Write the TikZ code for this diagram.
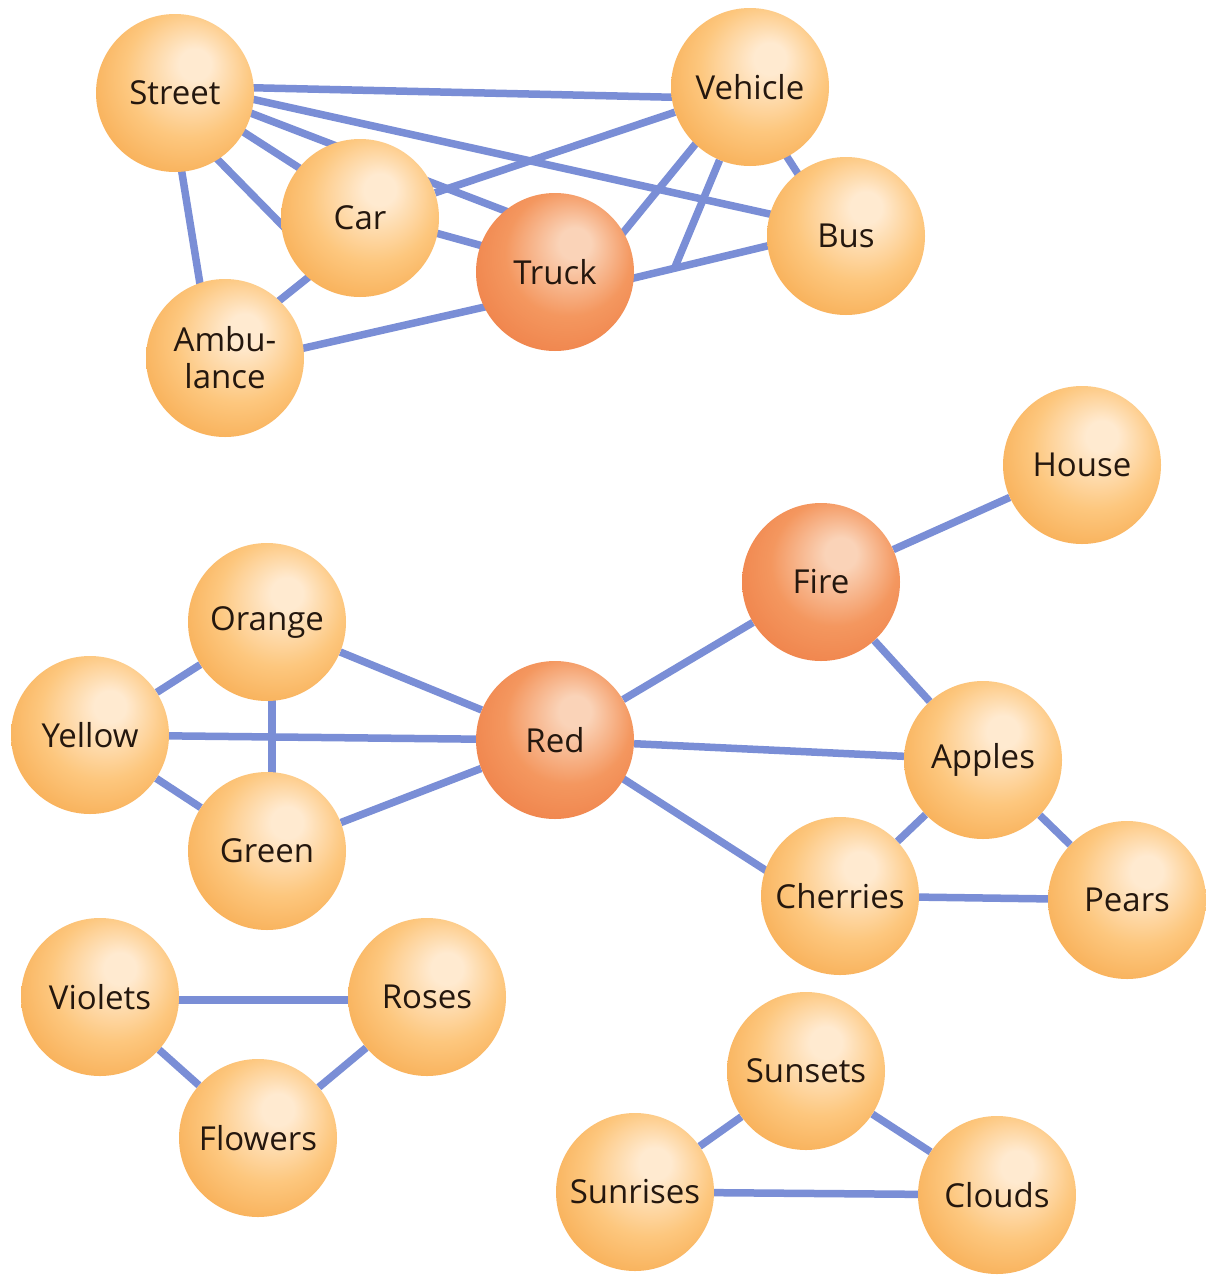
\documentclass[tikz,border=0pt]{standalone}
\usepackage{fontspec}
\setmainfont{Open Sans}
\usetikzlibrary{backgrounds,calc}
\definecolor{hlO}{HTML}{FFEAD0}
\definecolor{midO}{HTML}{FDC77E}
\definecolor{edgeO}{HTML}{F7AC52}
\definecolor{hlR}{HTML}{FAD3B8}
\definecolor{midR}{HTML}{F4975F}
\definecolor{edgeR}{HTML}{EF8149}
\definecolor{linkblue}{RGB}{122,142,214}
\definecolor{txt}{HTML}{24170E}
\pgfdeclareradialshading{oball}{\pgfpoint{7bp}{10bp}}{color(0bp)=(hlO); color(5bp)=(hlO); color(20bp)=(midO); color(33bp)=(edgeO); color(50bp)=(edgeO)}
\pgfdeclareradialshading{rball}{\pgfpoint{7bp}{10bp}}{color(0bp)=(hlR); color(5bp)=(hlR); color(20bp)=(midR); color(33bp)=(edgeR); color(50bp)=(edgeR)}
\tikzset{
  ball/.style={circle, minimum size=158pt, inner sep=0pt, shading=oball,
    font=\fontsize{33}{37}\selectfont, text=txt, align=center},
  redball/.style={ball, shading=rball},
  link/.style={draw=linkblue, line width=7.5pt}
}
\begin{document}
\begin{tikzpicture}[x=1pt,y=-1pt]
\useasboundingbox (0,0) rectangle (1206,1277);
% top cluster
\node[ball] (Street) at (175,93) {Street};
\node[ball] (Vehicle) at (750,87) {Vehicle};
\node[ball] (Car) at (360,218) {Car};
\node[redball] (Truck) at (555,272) {Truck};
\node[ball] (Bus) at (846,236) {Bus};
\node[ball] (Ambulance) at (225,358) {Ambu-\\lance};
\coordinate (J) at (675,267);
% middle cluster
\node[ball] (House) at (1082,465) {House};
\node[redball] (Fire) at (821,582) {Fire};
\node[ball] (Orange) at (267,622) {Orange};
\node[ball] (Yellow) at (90,735) {Yellow};
\node[redball] (Red) at (555,740) {Red};
\node[ball] (Apples) at (983,760) {Apples};
\node[ball] (Green) at (267,851) {Green};
\node[ball] (Cherries) at (840,896) {Cherries};
\node[ball] (Pears) at (1127,900) {Pears};
% bottom clusters
\node[ball] (Violets) at (100,997) {Violets};
\node[ball] (Roses) at (427,997) {Roses};
\node[ball] (Flowers) at (258,1138) {Flowers};
\node[ball] (Sunsets) at (806,1071) {Sunsets};
\node[ball] (Sunrises) at (635,1192) {Sunrises};
\node[ball] (Clouds) at (997,1195) {Clouds};
\begin{pgfonlayer}{background}
\fill[white] (0,0) rectangle (1206,1277);
% top
\draw[link] ($(Street)+(0,-7)$) -- ($(Vehicle)+(0,12)$);
\draw[link] ($(Street)+(0,-11)$) -- ($(Bus)+(0,-5)$);
\draw[link] ($(Street)+(0,-9)$) -- ($(Truck)+(0,-42)$);
\draw[link] ($(Street)+(0,-5)$) -- ($(Car)+(0,-11)$);
\draw[link] ($(Street)+(0,23)$) -- ($(Car)+(-30,56)$);
\draw[link] ($(Street)+(-6,0)$) -- ($(Ambulance)+(-13,0)$);
\draw[link] (Car) -- (Vehicle);
\draw[link] ($(Car)+(0,-6)$) -- ($(Truck)+(0,-6)$);
\draw[link] ($(Ambulance)+(0,-14)$) -- ($(Car)+(0,18)$);
\draw[link] ($(Ambulance)+(0,8)$) -- ($(Truck)+(0,19)$);
\draw[link] ($(Truck)+(45,-11)$) -- ($(Vehicle)+(-8,0)$);
\draw[link] (Vehicle) -- (J);
\draw[link] ($(Truck)+(0,25)$) -- ($(Bus)+(0,-9)$);
\draw[link] ($(Vehicle)+(-8,0)$) -- ($(Bus)+(-8,0)$);
% middle
\draw[link] (Fire) -- (House);
\draw[link] (Red) -- (Fire);
\draw[link] (Fire) -- (Apples);
\draw[link] (Red) -- (Apples);
\draw[link] ($(Red)+(0,-5)$) -- ($(Cherries)+(0,22)$);
\draw[link] (Orange) -- (Red);
\draw[link] (Yellow) -- (Red);
\draw[link] (Green) -- (Red);
\draw[link] (Yellow) -- (Orange);
\draw[link] ($(Orange)+(5,0)$) -- ($(Green)+(5,0)$);
\draw[link] (Yellow) -- (Green);
\draw[link] (Apples) -- (Cherries);
\draw[link] (Apples) -- (Pears);
\draw[link] (Cherries) -- (Pears);
% bottom
\draw[link] ($(Violets)+(0,3)$) -- ($(Roses)+(0,3)$);
\draw[link] (Violets) -- (Flowers);
\draw[link] (Roses) -- (Flowers);
\draw[link] (Sunsets) -- (Sunrises);
\draw[link] (Sunsets) -- (Clouds);
\draw[link] (Sunrises) -- (Clouds);
\end{pgfonlayer}
\end{tikzpicture}
\end{document}
